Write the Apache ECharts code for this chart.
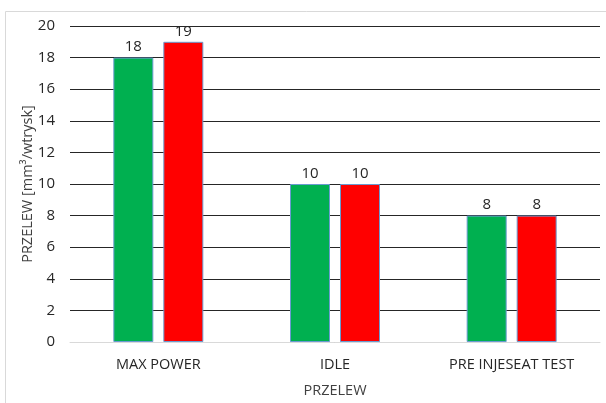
<!DOCTYPE html>
<html><head><meta charset="utf-8">
<script src="https://cdn.jsdelivr.net/npm/echarts@6/dist/echarts.min.js"></script>
<style>html,body{margin:0;padding:0;background:#fff}#c{width:606px;height:403px}</style>
</head><body><div id="c"></div>
<script>
const categories = ['MAX POWER', 'IDLE', 'PRE INJESEAT TEST'];
const seriesA = [18, 10, 8];
const seriesB = [19, 10, 8];
const yTicks = [0, 20, 2];
const font = 'Open Sans';
const chart = echarts.init(document.getElementById('c'), null, {renderer: 'canvas'});
const labelStyle = {show: true, position: 'top', distance: 3, color: '#262626', fontSize: 15, fontFamily: font};
chart.setOption({
  animation: false,
  graphic: [{type: 'rect', shape: {x: 5.5, y: 11.5, width: 700, height: 500}, style: {fill: 'none', stroke: '#d9d9d9', lineWidth: 1}, silent: true}],
  grid: {left: 70, right: 6, top: 26, bottom: 60, containLabel: false},
  xAxis: {
    type: 'category', data: categories,
    name: 'PRZELEW', nameLocation: 'middle', nameGap: 41,
    nameTextStyle: {color: '#404040', fontSize: 14.5, fontFamily: font},
    axisLine: {lineStyle: {color: '#d9d9d9'}}, axisTick: {show: false},
    axisLabel: {color: '#262626', fontSize: 14.5, fontFamily: font, margin: 15}
  },
  yAxis: {
    type: 'value', min: yTicks[0], max: yTicks[1], interval: yTicks[2],
    name: 'PRZELEW [mm³/wtrysk]', nameLocation: 'middle', nameGap: 35, nameRotate: 90,
    nameMoveOverlap: false,
    nameTextStyle: {color: '#404040', fontSize: 14.5, fontFamily: font},
    axisLine: {show: false}, axisTick: {show: false},
    axisLabel: {color: '#262626', fontSize: 15, fontFamily: font, margin: 15},
    splitLine: {lineStyle: {color: '#262626', width: 1}}
  },
  series: [
    {type: 'bar', data: seriesA, barWidth: 40, barGap: '25%',
     itemStyle: {color: '#00b050', borderColor: '#6a9bd0', borderWidth: 1}, label: labelStyle},
    {type: 'bar', data: seriesB, barWidth: 40,
     itemStyle: {color: '#ff0000', borderColor: '#6a9bd0', borderWidth: 1}, label: labelStyle}
  ]
});
</script></body></html>
